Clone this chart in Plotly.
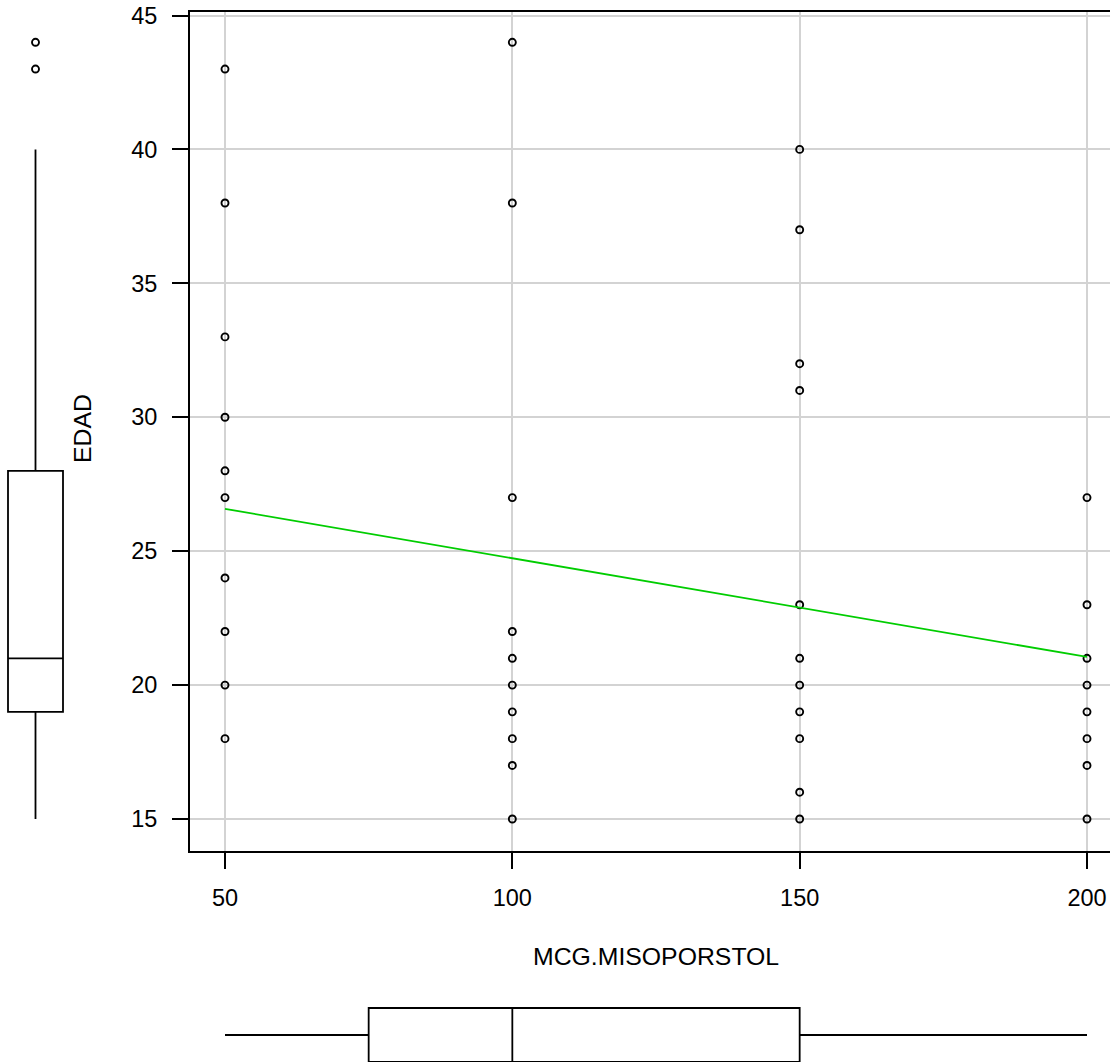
import plotly.graph_objects as go

# ---- data ----
dose_50 = [43, 38, 33, 30, 28, 27, 24, 22, 20, 18]
dose_100 = [44, 38, 27, 22, 21, 20, 19, 18, 17, 15]
dose_150 = [40, 37, 32, 31, 23, 21, 20, 19, 18, 16, 15]
dose_200 = [27, 23, 21, 20, 19, 18, 17, 15]
doses = [50, 100, 150, 200]

fit_x = [50, 200]
fit_y = [26.58, 21.05]

# boxplot stats for EDAD (y) and MCG.MISOPORSTOL (x)
edad_stats = dict(lower=15, q1=19, median=21, q3=28, upper=40)
edad_outliers = [43, 44]
mcg_stats = dict(lower=50, q1=75, median=100, q3=150, upper=200)

x_ticks = [50, 100, 150, 200]
y_ticks = [15, 20, 25, 30, 35, 40, 45]

# ---- layout constants (pixels) ----
W, H = 1110, 1062
PL, PT, PB = 190, 12, 851
FONT = "Liberation Sans, Arial, sans-serif"
FS_TICK = 23.5
FS_TITLE = 24.8


def yf(px):
    """pixel row (from top) -> paper fraction"""
    return 1 - px / H


xs, ys = [], []
for d, vals in zip(doses, [dose_50, dose_100, dose_150, dose_200]):
    xs += [d] * len(vals)
    ys += vals

marker_style = dict(symbol="circle-open", size=7, color="black",
                    line=dict(width=1.9, color="black"))

fig = go.Figure()

fig.add_trace(go.Scatter(
    x=xs, y=ys, mode="markers", marker=marker_style,
    xaxis="x", yaxis="y", showlegend=False, cliponaxis=False))

fig.add_trace(go.Scatter(
    x=fit_x, y=fit_y, mode="lines",
    line=dict(color="#00cd00", width=1.8),
    xaxis="x", yaxis="y", showlegend=False))

# left vertical boxplot
fig.add_trace(go.Box(
    x=[35.5], q1=[edad_stats["q1"]], median=[edad_stats["median"]], q3=[edad_stats["q3"]],
    lowerfence=[edad_stats["lower"]], upperfence=[edad_stats["upper"]],
    width=55, whiskerwidth=0, fillcolor="rgba(0,0,0,0)",
    line=dict(color="black", width=1.8), xaxis="x2", yaxis="y2",
    showlegend=False, boxpoints=False))
fig.add_trace(go.Scatter(
    x=[35.5] * len(edad_outliers), y=edad_outliers, mode="markers", marker=marker_style,
    xaxis="x2", yaxis="y2", showlegend=False))

# bottom horizontal boxplot
fig.add_trace(go.Box(
    y=[27], q1=[mcg_stats["q1"]], median=[mcg_stats["median"]], q3=[mcg_stats["q3"]],
    lowerfence=[mcg_stats["lower"]], upperfence=[mcg_stats["upper"]],
    orientation="h", width=54, whiskerwidth=0, fillcolor="rgba(0,0,0,0)",
    line=dict(color="black", width=1.8), xaxis="x3", yaxis="y3",
    showlegend=False, boxpoints=False))

# axis scaling: 50->225px, 200->1087px ; 45->15.5px, 15->819px
xs_px = (1087 - 225) / 150.0
x_lo = 50 - (225 - PL) / xs_px
x_hi = 50 + (W - 225) / xs_px
ys_px = (819 - 15.5) / 30.0
y_lo = 15 - (PB - 819) / ys_px
y_hi = 45 + (15.5 - PT) / ys_px

ydom = [yf(PB), yf(PT)]
xdom = [PL / W, 1.0]

axis_common = dict(
    showline=True, linecolor="black", linewidth=1.8,
    ticks="outside", ticklen=16, tickwidth=1.8, tickcolor="black",
    showgrid=True, gridcolor="#d3d3d3", gridwidth=1.6, zeroline=False,
    tickfont=dict(family=FONT, size=FS_TICK, color="black"),
    automargin=False, ticklabeloverflow="allow",
)

fig.update_layout(
    width=W, height=H, margin=dict(l=0, r=0, t=0, b=0, pad=0, autoexpand=False),
    paper_bgcolor="white", plot_bgcolor="white",
    xaxis=dict(domain=xdom, range=[x_lo, x_hi], tickvals=x_ticks, anchor="y",
               mirror=True, ticklabelstandoff=9, **axis_common),
    yaxis=dict(domain=ydom, range=[y_lo, y_hi], tickvals=y_ticks, anchor="x",
               mirror=False, ticklabelstandoff=10, **axis_common),
    xaxis2=dict(domain=[0, PL / W], range=[0, PL], visible=False, anchor="y2"),
    yaxis2=dict(domain=ydom, range=[y_lo, y_hi], visible=False, anchor="x2"),
    xaxis3=dict(domain=xdom, range=[x_lo, x_hi], visible=False, anchor="y3"),
    yaxis3=dict(domain=[0, yf(H - 60)], range=[0, 60], visible=False, anchor="x3"),
    annotations=[
        dict(text="EDAD", x=82.5 / W, y=yf(428.5), xref="paper", yref="paper",
             textangle=-90, showarrow=False, xanchor="center", yanchor="middle",
             font=dict(family=FONT, size=FS_TITLE, color="black")),
        dict(text="MCG.MISOPORSTOL", x=655.5 / W, y=yf(956.7), xref="paper", yref="paper",
             showarrow=False, xanchor="center", yanchor="middle",
             font=dict(family=FONT, size=FS_TITLE, color="black")),
    ],
)

fig.write_html(
    "out.html",
    config={"displayModeBar": False, "responsive": False},
    post_script="document.body.style.margin='0';document.body.style.padding='0';"
                "document.documentElement.style.margin='0';document.documentElement.style.overflow='hidden';"
                "document.body.style.overflow='hidden';",
)
